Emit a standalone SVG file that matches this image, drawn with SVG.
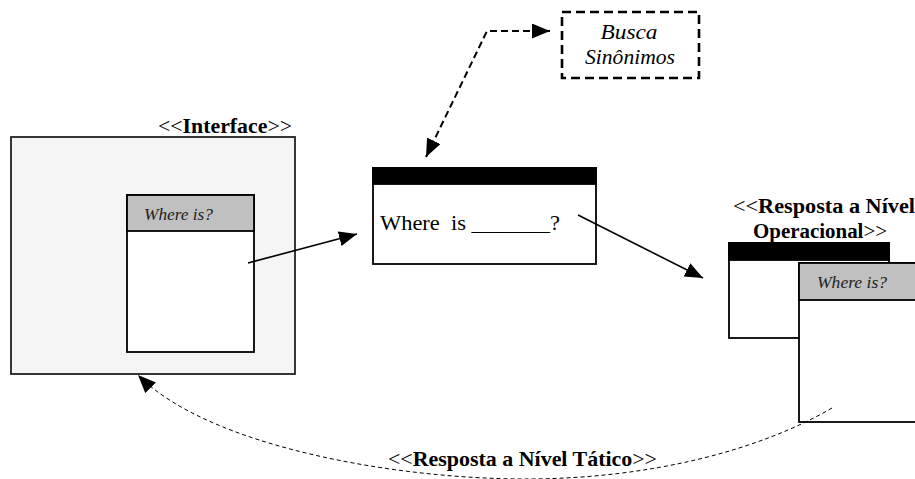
<svg xmlns="http://www.w3.org/2000/svg" width="915" height="479" viewBox="0 0 915 479">
  <style>
    .frame { fill: #ffffff; stroke: #000000; stroke-width: 1.8; }
    .outer { fill: #f5f5f5; stroke: #222222; stroke-width: 1.8; }
    .bar { fill: #000000; stroke: #000000; stroke-width: 1.8; }
    .title { fill: #c0c0c0; stroke: #000000; stroke-width: 1.8; }
    .serif { font-family: "Liberation Serif", "Times New Roman", serif; fill: #000000; }
    .stereo { font-size: 22px; }
    .stereo2 { font-size: 20px; }
    .b { font-weight: bold; }
    .cap { font-size: 17px; font-style: italic; fill: #222222; }
    .flow { fill: none; stroke: #000000; stroke-width: 1.6; }
    .dash { fill: none; stroke: #000000; stroke-width: 2; stroke-dasharray: 7 4; }
    .thin { fill: none; stroke: #000000; stroke-width: 1; stroke-dasharray: 4 3; }
  </style>
  <defs>
    <marker id="head" markerUnits="userSpaceOnUse" markerWidth="20" markerHeight="16" refX="18" refY="7.5" orient="auto-start-reverse">
      <path d="M0,0 L18,7.5 L0,15 Z" fill="#000000"/>
    </marker>
  </defs>

  <!-- Interface screen -->
  <g id="interface">
    <rect class="outer" x="11" y="137" width="284" height="237"/>
    <text class="serif stereo" x="158" y="133" textLength="134" lengthAdjust="spacingAndGlyphs">&lt;&lt;<tspan class="b">Interface</tspan>&gt;&gt;</text>
    <rect class="frame" x="127" y="195" width="127" height="157"/>
    <rect class="title" x="127" y="195" width="127" height="36"/>
    <text class="serif cap" x="144" y="220" textLength="69" lengthAdjust="spacingAndGlyphs">Where is?</text>
  </g>

  <!-- Query window -->
  <g id="query">
    <rect class="frame" x="373" y="168" width="223" height="96"/>
    <rect class="bar" x="373" y="168" width="223" height="16"/>
    <text class="serif" font-size="22" x="380" y="230" textLength="180" lengthAdjust="spacingAndGlyphs" xml:space="preserve">Where  is _______?</text>
  </g>

  <!-- Synonym lookup -->
  <g id="synonyms">
    <rect x="562" y="12" width="137" height="66" fill="#ffffff" stroke="#000000" stroke-width="2.6" stroke-dasharray="9 5"/>
    <text class="serif" font-size="22" font-style="italic" text-anchor="middle" x="629" y="39" textLength="57" lengthAdjust="spacingAndGlyphs">Busca</text>
    <text class="serif" font-size="22" font-style="italic" text-anchor="middle" x="630" y="64" textLength="90" lengthAdjust="spacingAndGlyphs">Sinônimos</text>
  </g>

  <!-- Operational answer windows -->
  <g id="operational">
    <text class="serif stereo2" x="733" y="213" textLength="182" lengthAdjust="spacingAndGlyphs">&lt;&lt;<tspan class="b">Resposta a Nível</tspan></text>
    <text class="serif stereo2" x="753" y="238" textLength="134" lengthAdjust="spacingAndGlyphs"><tspan class="b">Operacional</tspan>&gt;&gt;</text>
    <rect class="frame" x="729" y="243" width="160" height="95"/>
    <rect class="bar" x="729" y="243" width="160" height="17"/>
    <rect class="frame" x="799" y="263" width="130" height="159"/>
    <rect class="title" x="799" y="263" width="130" height="37"/>
    <text class="serif cap" x="817" y="288" textLength="70" lengthAdjust="spacingAndGlyphs">Where is?</text>
  </g>

  <!-- Connectors -->
  <g id="connectors">
    <line class="flow" x1="248" y1="263" x2="357" y2="234" marker-end="url(#head)"/>
    <line class="flow" x1="578" y1="215" x2="703" y2="278" marker-end="url(#head)"/>
    <polyline class="dash" points="426,157 487,31 550,31" marker-start="url(#head)" marker-end="url(#head)"/>
    <path class="thin" d="M832,408 C760,450 650,479 525,479 C400,479 210,448 138,375" marker-end="url(#head)"/>
    <text class="serif stereo" x="388" y="466" textLength="269" lengthAdjust="spacingAndGlyphs">&lt;&lt;<tspan class="b">Resposta a Nível Tático</tspan>&gt;&gt;</text>
  </g>
</svg>
